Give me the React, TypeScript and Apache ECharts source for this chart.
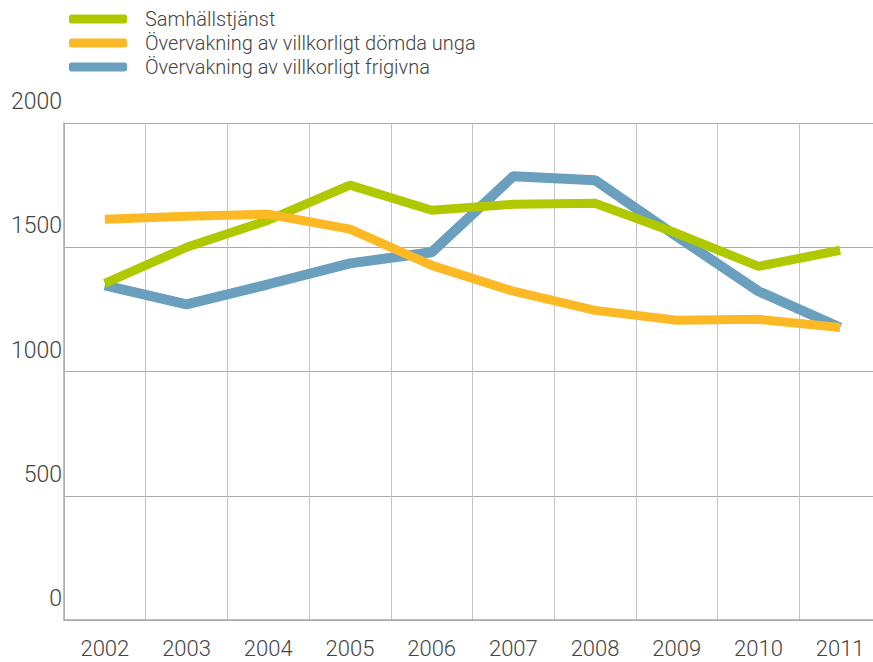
import React, { useEffect, useRef } from "react";
import * as echarts from "echarts";

const years = ["2002", "2003", "2004", "2005", "2006", "2007", "2008", "2009", "2010", "2011"];
const samhallstjanst = [1355, 1500, 1609, 1750, 1649, 1673, 1677, 1556, 1423, 1488];
const domdaUnga = [1613, 1625, 1633, 1573, 1427, 1323, 1246, 1206, 1210, 1177];
const frigivna = [1347, 1270, 1351, 1435, 1480, 1786, 1770, 1544, 1323, 1177];
const seriesNames = ["Samhällstjänst", "Övervakning av villkorligt dömda unga", "Övervakning av villkorligt frigivna"];
const colors = ["#b0c800", "#fbb926", "#6a9fbe"];

export default function App() {
  const ref = useRef<HTMLDivElement>(null);
  useEffect(() => {
    const chart = echarts.init(ref.current!, null, { renderer: "svg" });
    const font = "Roboto";
    chart.setOption({
      animation: false,
      color: colors,
      legend: {
        orient: "vertical",
        left: 64,
        top: 4,
        itemWidth: 58,
        itemHeight: 9,
        itemGap: 4,
        icon: "roundRect",
        textStyle: { fontFamily: font, fontWeight: 300, fontSize: 20, color: "#444", padding: [0, 0, 0, 13] },
        data: seriesNames,
      },
      grid: { left: 64, top: 123, bottom: 42, right: 0 },
      xAxis: {
        type: "category",
        data: years,
        boundaryGap: true,
        axisLine: { show: true, lineStyle: { color: "#aaa", width: 1.5 } },
        axisTick: { show: false },
        splitLine: { show: true, interval: 0, lineStyle: { color: "#c4c4c4", width: 1 } },
        axisLabel: { fontFamily: font, fontWeight: 300, fontSize: 22, color: "#444", margin: 17, interval: 0 },
      },
      yAxis: {
        type: "value",
        min: 0,
        max: 2000,
        interval: 500,
        axisLine: { show: true, lineStyle: { color: "#aaa", width: 1.5 } },
        axisTick: { show: false },
        splitLine: { show: true, lineStyle: { color: "#aaa", width: 1.2 } },
        axisLabel: {
          fontFamily: font,
          fontWeight: 300,
          fontSize: 23,
          color: "#444",
          margin: 2,
          verticalAlign: "bottom",
          padding: [0, 0, 10, 0],
          formatter: (v: number) => String(v),
        },
      },
      series: [
        { name: seriesNames[0], type: "line", data: samhallstjanst, symbol: "none", lineStyle: { width: 9, color: colors[0] }, itemStyle: { color: colors[0] } },
        { name: seriesNames[1], type: "line", data: domdaUnga, symbol: "none", lineStyle: { width: 9, color: colors[1] }, itemStyle: { color: colors[1] } },
        { name: seriesNames[2], type: "line", data: frigivna, symbol: "none", lineStyle: { width: 10, color: colors[2] }, itemStyle: { color: colors[2] }, z: 1 },
      ],
    });
    return () => chart.dispose();
  }, []);
  return (
    <div style={{ width: 873, height: 662, position: "absolute", left: 0, top: 0, overflow: "hidden" }}>
      <div ref={ref} style={{ width: 881, height: 662 }} />
    </div>
  );
}
